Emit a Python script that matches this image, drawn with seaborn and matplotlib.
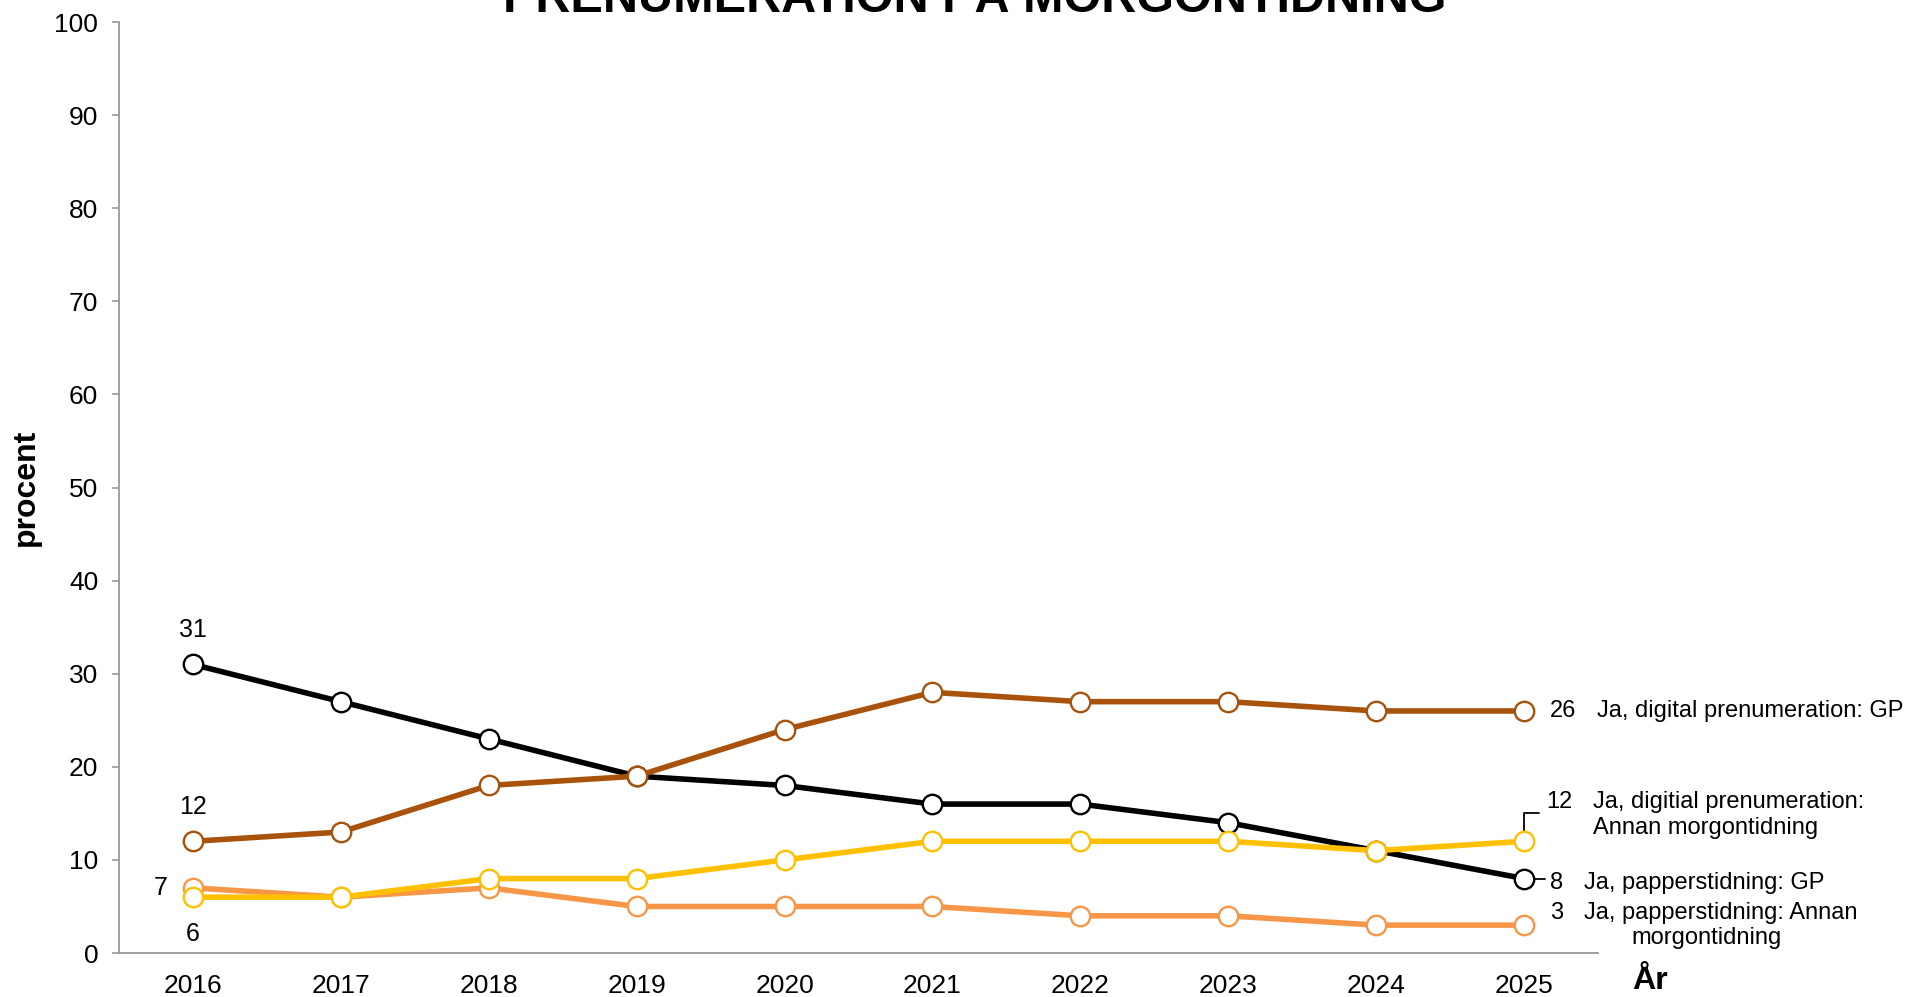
import pandas as pd
import matplotlib
matplotlib.use("Agg")
import matplotlib.pyplot as plt
import seaborn as sns

sns.set_style("white")
plt.rcParams["font.family"] = ["Liberation Sans", "DejaVu Sans"]
plt.rcParams["text.color"] = "black"
plt.rcParams["axes.labelcolor"] = "black"
plt.rcParams["xtick.labelcolor"] = "black"
plt.rcParams["ytick.labelcolor"] = "black"

years = ["2016", "2017", "2018", "2019", "2020", "2021", "2022", "2023", "2024", "2025"]
papper_gp = [31, 27, 23, 19, 18, 16, 16, 14, 11, 8]
digital_gp = [12, 13, 18, 19, 24, 28, 27, 27, 26, 26]
digital_annan = [6, 6, 8, 8, 10, 12, 12, 12, 11, 12]
papper_annan = [7, 6, 7, 5, 5, 5, 4, 4, 3, 3]

names = ["Ja, papperstidning: Annan morgontidning", "Ja, papperstidning: GP",
         "Ja, digital prenumeration: GP", "Ja, digitial prenumeration: Annan morgontidning"]
values = [papper_annan, papper_gp, digital_gp, digital_annan]
colors = ["#F79646", "#000000", "#A9520B", "#FFC000"]

rows = []
for n, v in zip(names, values):
    for i, val in enumerate(v):
        rows.append({"serie": n, "x": i, "procent": val})
df = pd.DataFrame(rows)

fig = plt.figure(figsize=(19.08, 9.97), dpi=100)
ax = fig.add_axes([0.0624, 0.0441, 0.7751, 0.9338])

for n, c in zip(names, colors):
    sub = df[df["serie"] == n]
    sns.lineplot(data=sub, x="x", y="procent", ax=ax, color=c, linewidth=4,
                 marker="o", markersize=14, markerfacecolor="white",
                 markeredgecolor=c, markeredgewidth=1.7, legend=False)

ax.set_xlim(-0.5, 9.5)
ax.set_ylim(0, 100)
ax.set_yticks(range(0, 101, 10))
ax.set_xticks(range(len(years)))
ax.set_xticklabels(years)
ax.set_xticks([i - 0.5 for i in range(len(years) + 1)], minor=True)
ax.tick_params(axis="x", which="major", length=0, pad=15, labelsize=19)
ax.tick_params(axis="x", which="minor", length=6.5, width=1.2, color="#999999", direction="out")
ax.tick_params(axis="y", length=5, width=1.2, color="#999999", direction="out", pad=10, labelsize=19, left=True)
sns.despine(ax=ax)
for s in ["left", "bottom"]:
    ax.spines[s].set_color("#999999")
    ax.spines[s].set_linewidth(1.3)

ax.set_xlabel("")
ax.set_ylabel("procent", fontsize=23, fontweight="bold")
ax.yaxis.set_label_coords(-0.053, 0.5)
ax.text(1.035, -0.030, "År", transform=ax.transAxes, fontsize=23, fontweight="bold",
        ha="center", va="center")

fig.text(0.511, 1 - 12 / 997, "PRENUMERATION PÅ MORGONTIDNING", fontsize=35, fontweight="bold",
         family=["Liberation Sans Narrow", "Liberation Sans"], ha="center", va="baseline")

# data labels first year
fs = 18
ax.annotate(str(papper_gp[0]), (0, papper_gp[0]), xytext=(0, 34), textcoords="offset pixels",
            ha="center", va="center", fontsize=fs)
ax.annotate(str(digital_gp[0]), (0, digital_gp[0]), xytext=(0, 34), textcoords="offset pixels",
            ha="center", va="center", fontsize=fs)
ax.annotate(str(papper_annan[0]), (0, papper_annan[0]), xytext=(-32, 0), textcoords="offset pixels",
            ha="center", va="center", fontsize=fs)
ax.annotate(str(digital_annan[0]), (0, digital_annan[0]), xytext=(0, -37), textcoords="offset pixels",
            ha="center", va="center", fontsize=fs)

# end labels
last = len(years) - 1
fs2 = 17
ax.annotate(str(digital_gp[-1]), (last, digital_gp[-1]), xytext=(26, 0), textcoords="offset pixels",
            ha="left", va="center", fontsize=fs2)
ax.annotate("Ja, digital prenumeration: GP", (last, digital_gp[-1]), xytext=(73, 0),
            textcoords="offset pixels", ha="left", va="center", fontsize=fs2)

ax.annotate(str(digital_annan[-1]), (last, digital_annan[-1]), xytext=(22, 39),
            textcoords="offset pixels", ha="left", va="center", fontsize=fs2)
ax.annotate("Ja, digitial prenumeration:", (last, digital_annan[-1]), xytext=(69, 39),
            textcoords="offset pixels", ha="left", va="center", fontsize=fs2)
ax.annotate("Annan morgontidning", (last, digital_annan[-1]), xytext=(69, 13),
            textcoords="offset pixels", ha="left", va="center", fontsize=fs2)
ax.plot([last, last, last + 0.1], [digital_annan[-1], digital_annan[-1] + 3, digital_annan[-1] + 3],
        color="black", linewidth=1.3, zorder=1)

ax.annotate(str(papper_gp[-1]), (last, papper_gp[-1]), xytext=(26, -4), textcoords="offset pixels",
            ha="left", va="center", fontsize=fs2)
ax.annotate("Ja, papperstidning: GP", (last, papper_gp[-1]), xytext=(60, -4),
            textcoords="offset pixels", ha="left", va="center", fontsize=fs2)
ax.plot([last, last + 0.14], [papper_gp[-1], papper_gp[-1]], color="black", linewidth=1.3, zorder=1)

ax.annotate(str(papper_annan[-1]), (last, papper_annan[-1]), xytext=(26, 12), textcoords="offset pixels",
            ha="left", va="center", fontsize=fs2)
ax.annotate("Ja, papperstidning: Annan", (last, papper_annan[-1]), xytext=(60, 12),
            textcoords="offset pixels", ha="left", va="center", fontsize=fs2)
ax.annotate("morgontidning", (last, papper_annan[-1]), xytext=(107, -13),
            textcoords="offset pixels", ha="left", va="center", fontsize=fs2)

for t in ax.texts + [t for t in ax.get_children() if isinstance(t, matplotlib.text.Annotation)]:
    t.set_clip_on(False)

fig.savefig("out.png", dpi=100)
